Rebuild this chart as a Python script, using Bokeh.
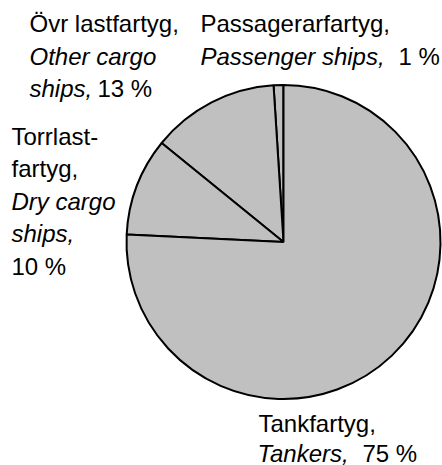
import math
from bokeh.plotting import figure
from bokeh.models import Range1d, ColumnDataSource
from bokeh.core.properties import value
from bokeh.embed import file_html
from bokeh.resources import INLINE

# ---- data ----
categories_sv = ["Passagerarfartyg,", "Övr lastfartyg,", "Torrlast-\nfartyg,", "Tankfartyg,"]
categories_en = ["Passenger ships,", "Other cargo\nships,", "Dry cargo\nships,", "Tankers,"]
shares = [1, 13, 10, 75]
share_labels = ["1 %", "13 %", "10 %", "75 %"]

# ---- layout (page pixel coordinates) ----
W, H = 442, 465
cx, cy, r = 283, 241.5, 157
FONT = value("Liberation Sans")
FS = "24px"
LH = 32.5
TEXT_SHIFT = 9  # compensate renderer baseline offset (px, upward)

# per label: x of text block, first baseline, percent x (None -> own line), x of english lines
label_layout = [
    dict(x=200, y0=32, en_x=200, pct_x=398),
    dict(x=29, y0=32, en_x=29, pct_x=97),
    dict(x=11, y0=144.5, en_x=11, pct_x=None),
    dict(x=258, y0=431.5, en_x=257, pct_x=362, lh=30),
]

p = figure(width=W, height=H, output_backend="svg", toolbar_location=None,
           x_range=Range1d(0, W), y_range=Range1d(0, H),
           min_border=0, background_fill_color="white", border_fill_color="white")
p.axis.visible = False
p.grid.visible = False
p.outline_line_color = None

def Y(page_y):
    return H - page_y

# wedges
total = sum(shares)
starts, ends = [], []
a = math.pi / 2
for s in shares:
    starts.append(a)
    a += 2 * math.pi * s / total
    ends.append(a)

src = ColumnDataSource(dict(x=[cx] * len(shares), y=[Y(cy)] * len(shares),
                            start=starts, end=ends, cat=categories_sv))
p.wedge(x="x", y="y", radius=r, start_angle="start", end_angle="end", source=src,
        fill_color="#c0c0c0", line_color="black", line_width=2)

# labels
reg_x, reg_y, reg_t = [], [], []
it_x, it_y, it_t = [], [], []
for sv, en, pct, lay in zip(categories_sv, categories_en, share_labels, label_layout):
    lh = lay.get("lh", LH)
    yb = lay["y0"] - TEXT_SHIFT
    for line in sv.split("\n"):
        reg_x.append(lay["x"]); reg_y.append(Y(yb)); reg_t.append(line)
        yb += lh
    for line in en.split("\n"):
        it_x.append(lay["en_x"]); it_y.append(Y(yb)); it_t.append(line)
        yb += lh
    if lay["pct_x"] is None:
        reg_x.append(lay["x"]); reg_y.append(Y(yb)); reg_t.append(pct)
    else:
        reg_x.append(lay["pct_x"]); reg_y.append(Y(yb - lh)); reg_t.append(pct)

p.text(x=reg_x, y=reg_y, text=reg_t, text_font=FONT, text_font_size=FS,
       text_baseline="alphabetic", text_align="left", text_color="black")
p.text(x=it_x, y=it_y, text=it_t, text_font=FONT, text_font_size=FS,
       text_font_style="italic", text_baseline="alphabetic", text_align="left",
       text_color="black")

open("out.html", "w").write(file_html(p, INLINE))
